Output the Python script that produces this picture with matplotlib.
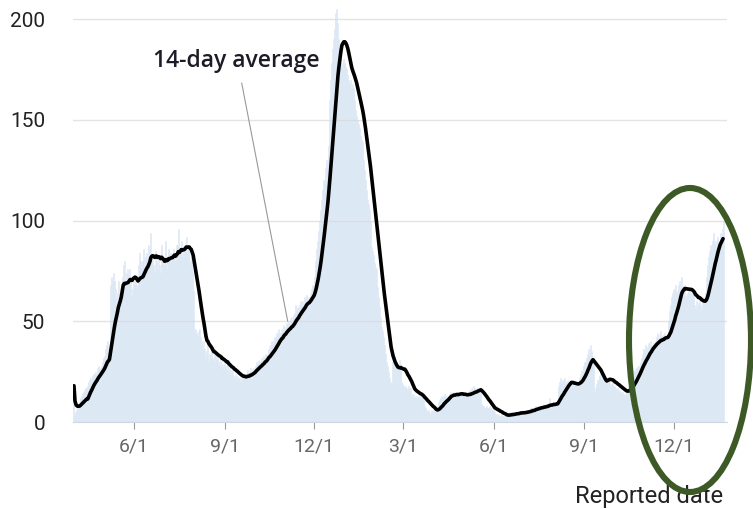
import matplotlib
matplotlib.use('Agg')
import matplotlib.pyplot as plt
import pandas as pd
from matplotlib.patches import Ellipse

plt.rcParams['font.family'] = ['Roboto', 'DejaVu Sans']

# daily reported counts, one row per week, starting 2020-04-01
start_date = '2020-04-01'
daily_cases = [
    18, 3, 5, 6, 7, 8, 9,
    12, 13, 14, 15, 16, 17, 17,
    18, 20, 21, 22, 20, 23, 24,
    24, 25, 23, 27, 28, 26, 27,
    28, 30, 32, 33, 36, 38, 40,
    32, 35, 68, 72, 70, 74, 70,
    66, 60, 64, 70, 58, 62, 67,
    72, 78, 80, 70, 74, 76, 73,
    76, 70, 62, 66, 70, 68, 72,
    68, 66, 69, 78, 84, 80, 76,
    80, 86, 76, 82, 84, 78, 88,
    86, 94, 80, 82, 78, 74, 85,
    80, 76, 82, 78, 74, 88, 80,
    78, 82, 90, 76, 80, 86, 84,
    84, 80, 82, 86, 84, 80, 88,
    88, 96, 84, 86, 90, 82, 87,
    85, 88, 92, 84, 86, 80, 78,
    82, 75, 65, 45, 46, 44, 42,
    45, 46, 42, 38, 40, 36, 40,
    36, 32, 35, 38, 30, 34, 33,
    35, 32, 30, 36, 34, 31, 33,
    30, 28, 31, 27, 29, 26, 30,
    28, 26, 29, 25, 27, 24, 26,
    25, 23, 22, 24, 21, 23, 22,
    22, 20, 23, 21, 22, 24, 23,
    24, 26, 23, 25, 27, 24, 26,
    27, 25, 28, 30, 29, 31, 30,
    30, 32, 29, 33, 32, 34, 31,
    34, 36, 38, 35, 38, 40, 38,
    40, 42, 41, 44, 43, 46, 44,
    44, 46, 43, 48, 47, 45, 49,
    48, 50, 47, 51, 52, 50, 53,
    54, 58, 55, 57, 56, 58, 60,
    58, 60, 57, 62, 60, 63, 62,
    60, 62, 64, 66, 68, 68, 72,
    80, 86, 90, 95, 100, 105, 110,
    115, 120, 118, 126, 130, 128, 137,
    160, 170, 178, 185, 190, 195, 200,
    203, 205, 198, 190, 185, 180, 178,
    175, 180, 178, 176, 175, 172, 170,
    168, 170, 166, 168, 166, 160, 155,
    152, 150, 148, 146, 142, 140, 139,
    130, 125, 120, 115, 110, 108, 105,
    100, 87, 85, 83, 79, 77, 76,
    67, 62, 57, 52, 47, 45, 42,
    38, 34, 30, 28, 25, 22, 20,
    18, 30, 28, 32, 27, 30, 29,
    28, 31, 29, 29, 20, 19, 18,
    17, 18, 17, 16, 18, 17, 17,
    14, 13, 14, 12, 13, 12, 13,
    12, 13, 12, 14, 12, 11, 8,
    7, 6, 5, 6, 5, 4, 6,
    5, 6, 7, 6, 6, 7, 10,
    11, 12, 13, 12, 13, 14, 12,
    13, 12, 13, 14, 15, 13, 14,
    15, 14, 13, 15, 14, 13, 14,
    15, 13, 14, 13, 12, 14, 13,
    12, 14, 15, 16, 15, 17, 16,
    18, 17, 16, 15, 17, 16, 16,
    16, 9, 8, 8, 7, 7, 8,
    7, 7, 8, 7, 6, 7, 7,
    5, 4, 4, 3, 4, 3, 3,
    4, 3, 3, 4, 3, 3, 3,
    4, 4, 5, 4, 5, 4, 4,
    5, 5, 4, 5, 4, 5, 5,
    4, 5, 5, 5, 6, 5, 6,
    6, 7, 6, 7, 7, 6, 7,
    8, 7, 7, 8, 7, 8, 8,
    7, 9, 8, 8, 9, 8, 9,
    12, 9, 8, 9, 10, 8, 9,
    9, 10, 18, 20, 22, 19, 21,
    20, 22, 19, 20, 21, 18, 19,
    17, 19, 18, 19, 18, 19, 18,
    19, 20, 22, 24, 26, 25, 28,
    30, 30, 32, 34, 36, 33, 38,
    35, 32, 30, 15, 17, 16, 19,
    21, 21, 23, 25, 22, 20, 23,
    21, 20, 22, 19, 21, 20, 18,
    19, 20, 18, 18, 17, 16, 17,
    15, 16, 15, 14, 15, 14, 13,
    14, 15, 16, 18, 20, 22, 24,
    23, 25, 26, 25, 27, 28, 26,
    28, 30, 32, 34, 36, 35, 38,
    37, 36, 39, 38, 40, 37, 38,
    39, 39, 40, 42, 44, 41, 43,
    45, 42, 40, 43, 41, 44, 42,
    40, 41, 50, 55, 58, 62, 64,
    66, 65, 68, 64, 65, 68, 70,
    66, 72, 65, 64, 68, 62, 63,
    64, 65, 66, 64, 64, 64, 63,
    58, 56, 60, 57, 59, 62, 58,
    56, 60, 62, 61, 64, 72, 78,
    82, 85, 88, 86, 90, 94, 88,
    90, 86, 92, 90, 88, 94, 92,
    96, 100,
]

tick_dates = ['2020-06-01', '2020-09-01', '2020-12-01', '2021-03-01',
              '2021-06-01', '2021-09-01', '2021-12-01']
tick_labels = ['6/1', '9/1', '12/1', '3/1', '6/1', '9/1', '12/1']
y_ticks = [0, 50, 100, 150, 200]

dates = pd.date_range(start_date, periods=len(daily_cases), freq='D')
avg14 = pd.Series(daily_cases).rolling(14, min_periods=1).mean()

fig = plt.figure(figsize=(7.53, 5.09), dpi=100)
ax = fig.add_axes([73/753, 87/509, 654/753, 413/509])

ax.bar(dates, daily_cases, width=1.0, color='#dce8f5', edgecolor='#dce8f5',
       linewidth=0.4, zorder=1)
ax.plot(dates, avg14, color='black', lw=2.6, zorder=3, solid_capstyle='round')

ax.set_xlim(pd.Timestamp('2020-03-31'), pd.Timestamp('2022-01-24'))
ax.set_ylim(0, 205)
ax.set_yticks(y_ticks)
ax.set_xticks(pd.to_datetime(tick_dates))
ax.set_xticklabels(tick_labels)

ax.set_axisbelow('line')
ax.yaxis.grid(True, color='#d8d8d8', lw=1, alpha=0.7)
for s in ['top', 'right', 'left']:
    ax.spines[s].set_visible(False)
ax.spines['bottom'].set_color('#cfd8e2')

ax.tick_params(axis='y', length=0, labelsize=15, labelcolor='#222222', pad=20)
ax.tick_params(axis='x', direction='out', length=5, color='#999999',
               labelsize=14, labelcolor='#666666', pad=6)

ax.annotate('14-day average', xy=(dates[217], avg14[217] + 5),
            xytext=(dates[165], 179), ha='center', va='center',
            fontsize=16.5, fontweight='semibold', color='#1c1c28',
            family=['Open Sans', 'DejaVu Sans'],
            arrowprops=dict(arrowstyle='-', color='#999999', lw=0.8,
                            shrinkA=5, shrinkB=0, relpos=(0.52, 0)))

fig.text(723/753, 1 - 497/509, 'Reported date', ha='right', va='center',
         fontsize=17, color='#222222',
         family=['Liberation Sans Narrow', 'Roboto', 'DejaVu Sans'])

# highlight ring around the latest rise
fig.patches.append(Ellipse((690/753, 1 - 340/509), 122/753, 304/509,
                           transform=fig.transFigure, fill=False,
                           ec='#3d5a26', lw=4.4, zorder=5))

fig.savefig('out.png', dpi=100)
